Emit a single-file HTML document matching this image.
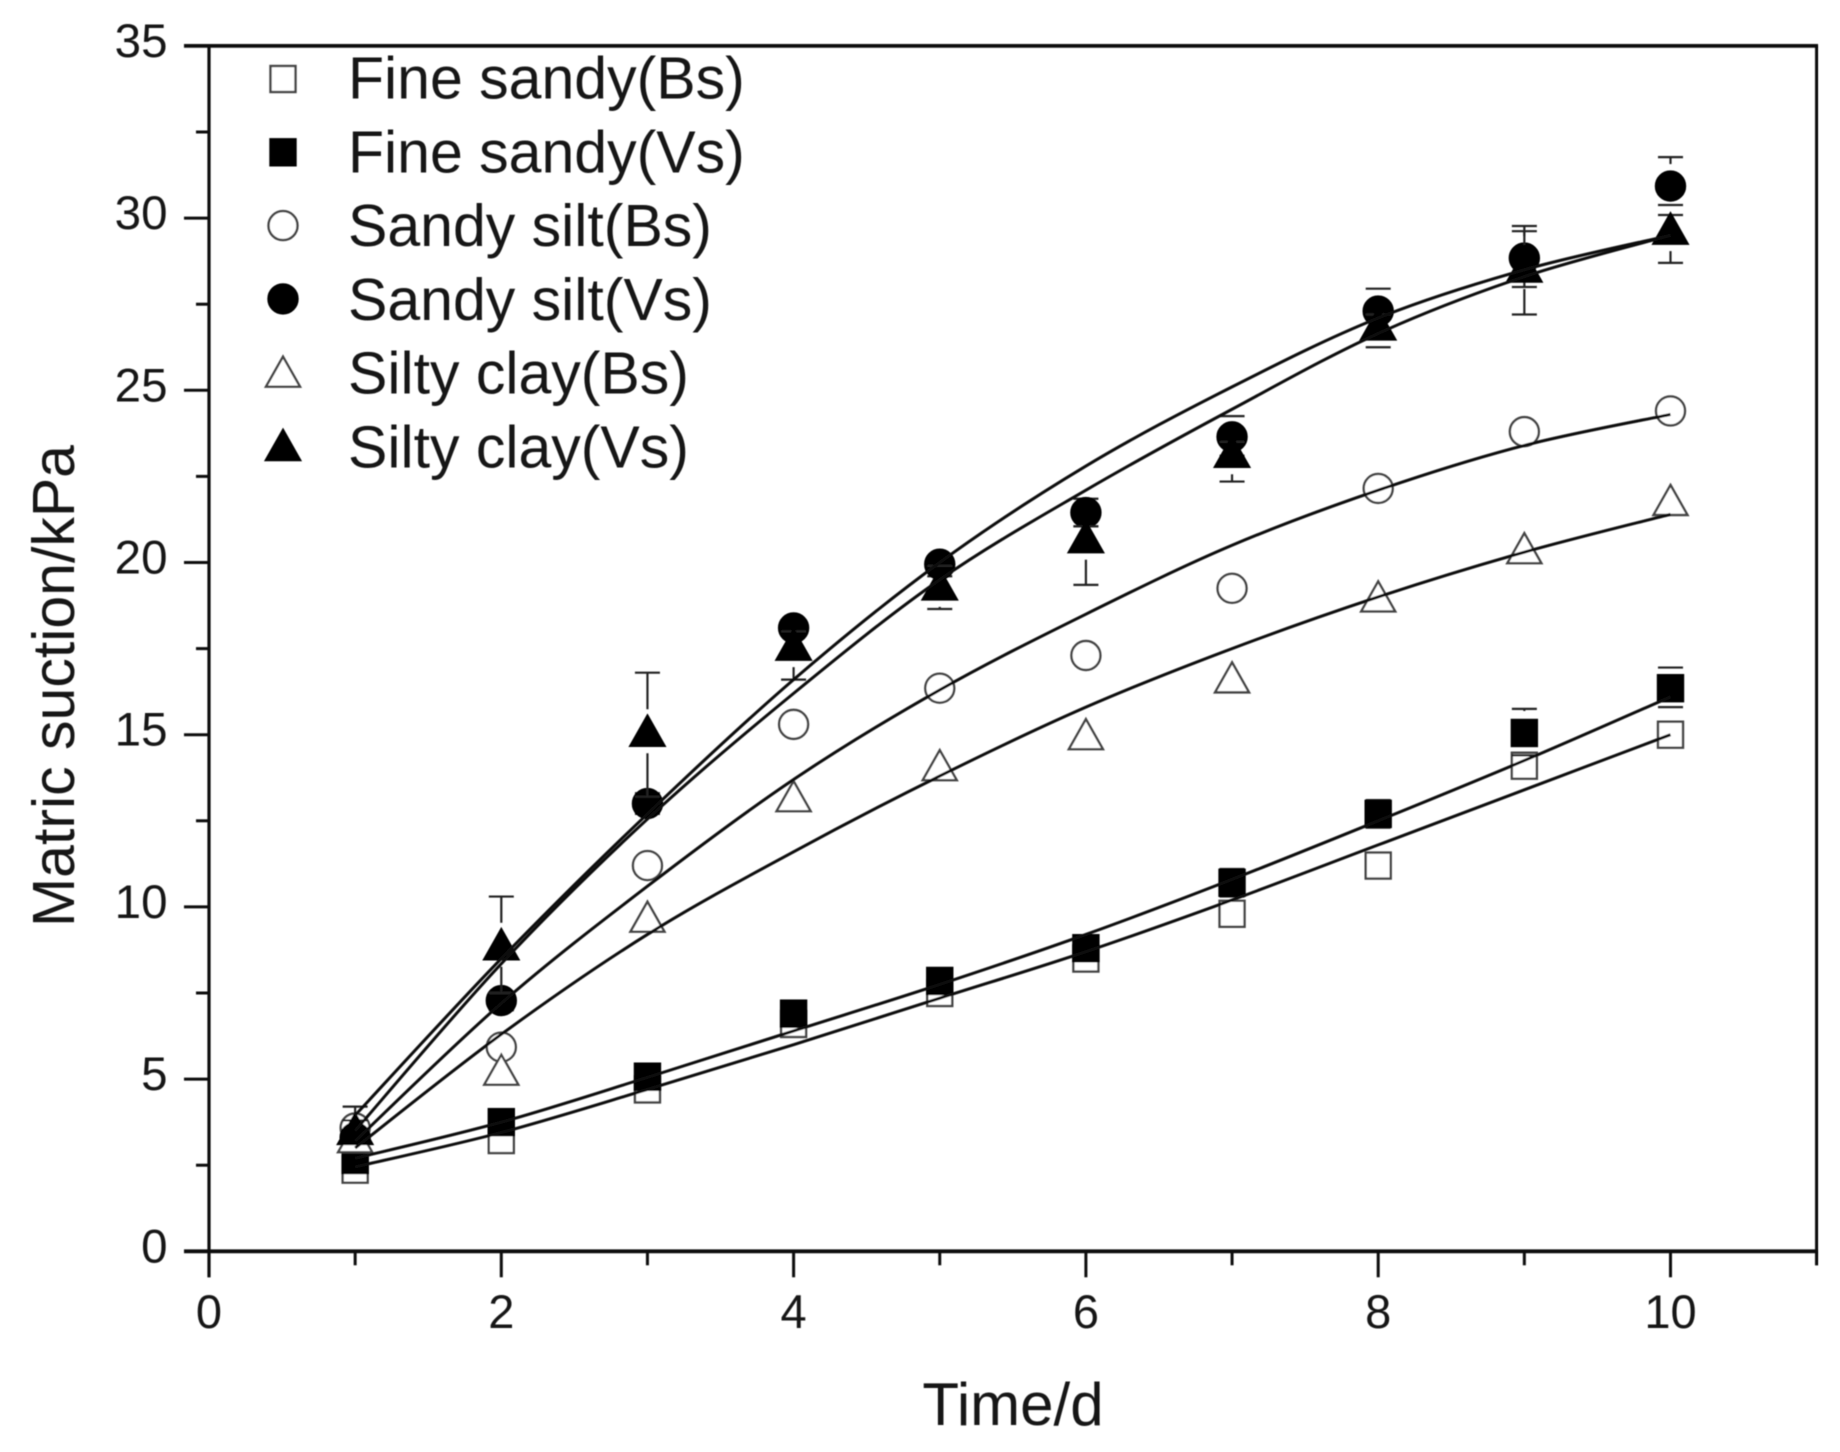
<!DOCTYPE html>
<html lang="en">
<head>
<meta charset="utf-8">
<title>Matric suction over time</title>
<style>
html,body{margin:0;padding:0;background:#fff;width:1840px;height:1452px;overflow:hidden}
svg{display:block}
text{font-family:"Liberation Sans",sans-serif;fill:#141414}
</style>
</head>
<body>
<svg id="chart" xmlns="http://www.w3.org/2000/svg" width="1840" height="1452" viewBox="0 0 1840 1452">
  <defs><filter id="soft" x="0" y="0" width="100%" height="100%"><feGaussianBlur stdDeviation="0.65"/></filter></defs>
  <rect width="1840" height="1452" fill="#fff"/>
  <g id="root" filter="url(#soft)">
    <g id="axes"></g>
    <g id="series"></g>
    <g id="curves"></g>
    <text x="1013" y="1425" font-size="60" text-anchor="middle">Time/d</text>
    <text transform="translate(74 686) rotate(-90)" font-size="59" text-anchor="middle">Matric suction/kPa</text>
    <g id="legend"></g>
  </g>
</svg>
<script>
const days = [1, 2, 3, 4, 5, 6, 7, 8, 9, 10];
const xTickLabels = [0, 2, 4, 6, 8, 10];
const xMinorTicks = [1, 3, 5, 7, 9, 11];
const yTickLabels = [0, 5, 10, 15, 20, 25, 30, 35];
const yMinorTicks = [2.5, 7.5, 12.5, 17.5, 22.5, 27.5, 32.5];

const fineSandyBs = [2.37, 3.23, 4.7, 6.6, 7.5, 8.5, 9.8, 11.2, 14.1, 15.0];
const fineSandyVs = [2.65, 3.75, 5.07, 6.9, 7.85, 8.8, 10.7, 12.7, 15.05, 16.35];
const sandySiltBs = [3.58, 5.93, 11.2, 15.3, 16.35, 17.3, 19.25, 22.15, 23.8, 24.4];
const sandySiltVs = [3.3, 7.28, 13.0, 18.1, 19.95, 21.45, 23.65, 27.3, 28.84, 30.93];
const siltyClayBs = [3.3, 5.26, 9.7, 13.2, 14.1, 15.0, 16.65, 19.0, 20.4, 21.8];
const siltyClayVs = [3.54, 8.9, 15.1, 17.6, 19.35, 20.72, 23.2, 26.9, 28.58, 29.68];

const fineSandyVsUpper = [2.8, 3.9, 5.3, 7.1, 8.1, 9.0, 11.1, 13.1, 15.75, 16.95];
const fineSandyVsLower = [2.4, 3.6, 4.9, 6.7, 7.6, 8.6, 10.3, 12.3, 14.4, 15.8];
const sandySiltVsUpper = [4.2, 7.5, 13.3, 18.3, 20.1, 21.85, 24.25, 27.95, 29.77, 31.77];
const sandySiltVsLower = [3.0, 7.0, 12.7, 17.9, 19.6, 21.05, 23.1, 26.7, 28.0, 30.38];
const siltyClayVsUpper = [3.8, 10.3, 16.8, 18.0, 19.9, 21.05, 23.5, 27.2, 29.62, 30.09];
const siltyClayVsLower = [3.2, 7.5, 13.2, 16.6, 18.65, 19.35, 22.35, 26.25, 27.2, 28.7];

const fitFineBs = [2.45, 3.45, 4.7, 6.0, 7.35, 8.7, 10.2, 11.8, 13.4, 15.0];
const fitFineVs = [2.7, 3.75, 5.05, 6.4, 7.75, 9.2, 10.8, 12.5, 14.25, 16.1];
const fitSandyBs = [3.2, 7.2, 10.6, 13.7, 16.3, 18.5, 20.5, 22.1, 23.4, 24.3];
const fitSandyVs = [3.95, 8.5, 12.7, 16.6, 20.0, 22.8, 25.1, 27.1, 28.5, 29.5];
const fitSiltyBs = [3.0, 6.3, 9.2, 11.6, 13.8, 15.8, 17.5, 19.0, 20.3, 21.4];
const fitSiltyVs = [3.5, 8.35, 12.55, 16.2, 19.5, 22.1, 24.45, 26.65, 28.3, 29.5];

const legendLabels = ["Fine sandy(Bs)", "Fine sandy(Vs)", "Sandy silt(Bs)", "Sandy silt(Vs)", "Silty clay(Bs)", "Silty clay(Vs)"];

const NS = "http://www.w3.org/2000/svg";
const INK = "#111";
const X0 = 209, XU = 146.15, Y0 = 1251.3, YU = 34.44;
const xScale = v => X0 + XU * v;
const yScale = v => Y0 - YU * v;

function make(tag, parent, attrs) {
  const el = document.createElementNS(NS, tag);
  for (const k in attrs) el.setAttribute(k, attrs[k]);
  parent.appendChild(el);
  return el;
}

function segment(parent, x1, y1, x2, y2, width, color) {
  return make("line", parent, {x1: x1, y1: y1, x2: x2, y2: y2, stroke: color || INK, "stroke-width": width});
}

function marker(parent, shape, filled, cx, cy) {
  const fill = filled ? "#000" : "#fff";
  const stroke = filled ? "#000" : "#444";
  const sw = 2.4;
  if (shape === "square") {
    return make("rect", parent, {x: cx - 12.5, y: cy - 13, width: 25, height: 26, fill: fill, stroke: stroke, "stroke-width": sw});
  }
  if (shape === "circle") {
    return make("circle", parent, {cx: cx, cy: cy, r: 14.5, fill: fill, stroke: stroke, "stroke-width": sw});
  }
  const pts = [cx, cy - 15.5, cx + 17, cy + 14.5, cx - 17, cy + 14.5].join(" ");
  return make("polygon", parent, {points: pts, fill: fill, stroke: stroke, "stroke-width": sw, "stroke-linejoin": "miter"});
}

const axes = document.getElementById("axes");
const seriesRoot = document.getElementById("series");
const curvesRoot = document.getElementById("curves");
const legendRoot = document.getElementById("legend");

const yTop = yScale(35), xRight = xScale(11);

const spineTop = segment(axes, 184, yTop, xRight + 1.5, yTop, 3.8);


const spineBottom = segment(axes, 184, Y0, xRight + 1.5, Y0, 3.8);


const spineLeft = segment(axes, X0, yTop, X0, Y0 + 26, 3.2);


const spineRight = segment(axes, xRight, yTop, xRight, Y0 + 14, 3.2);



xTickLabels.forEach(v => {
  const tick = segment(axes, xScale(v), Y0, xScale(v), Y0 + 26, 3);
  
  
  const label = make("text", axes, {x: xScale(v), y: 1328, "font-size": 47, "text-anchor": "middle"});
  label.textContent = v;
  
  
});
xMinorTicks.forEach(v => {
  const tick = segment(axes, xScale(v), Y0, xScale(v), Y0 + 14, 3);
  
  
});
yTickLabels.forEach(v => {
  const tick = segment(axes, 184, yScale(v), X0, yScale(v), 3);
  
  
  const label = make("text", axes, {x: 167.5, y: yScale(v) + 11, "font-size": 47.5, "text-anchor": "end"});
  label.textContent = v;
  
  
});
yMinorTicks.forEach(v => {
  const tick = segment(axes, 196, yScale(v), X0, yScale(v), 3);
  
  
});

function drawErrors(parent, values, upper, lower) {
  days.forEach((d, i) => {
    const x = xScale(d), cy = yScale(values[i]);
    [upper[i], lower[i]].forEach(e => {
      const yc = yScale(e);
      const dir = yc < cy ? -1 : 1;
      if (Math.abs(yc - cy) > 22) {
        const whisker = segment(parent, x, cy + dir * 22, x, yc, 2.2, "#222");
        
        
      }
      const cap = segment(parent, x - 12.5, yc, x + 12.5, yc, 2.2, "#222");
      
      
    });
  });
}

function drawSeries(name, shape, filled, values, upper, lower) {
  const g = make("g", seriesRoot, {});
  
  
  if (upper) drawErrors(g, values, upper, lower);
  days.forEach((d, i) => {
    const m = marker(g, shape, filled, xScale(d), yScale(values[i]));
    
    
  });
}

function drawCurve(name, values) {
  const px = days.map((d, i) => [xScale(d), yScale(values[i])]);
  let path = "M" + px[0][0] + " " + px[0][1];
  for (let i = 0; i < px.length - 1; i++) {
    const a = px[Math.max(i - 1, 0)], b = px[i], c = px[i + 1], e = px[Math.min(i + 2, px.length - 1)];
    path += " C" + (b[0] + (c[0] - a[0]) / 6) + " " + (b[1] + (c[1] - a[1]) / 6) + " " +
      (c[0] - (e[0] - b[0]) / 6) + " " + (c[1] - (e[1] - b[1]) / 6) + " " + c[0] + " " + c[1];
  }
  const line = make("path", curvesRoot, {d: path, fill: "none", stroke: INK, "stroke-width": 3});
  
  
}

drawSeries("series-fine-sandy-bs", "square", false, fineSandyBs);
drawSeries("series-fine-sandy-vs", "square", true, fineSandyVs, fineSandyVsUpper, fineSandyVsLower);
drawSeries("series-sandy-silt-bs", "circle", false, sandySiltBs);
drawSeries("series-sandy-silt-vs", "circle", true, sandySiltVs, sandySiltVsUpper, sandySiltVsLower);
drawSeries("series-silty-clay-bs", "triangle", false, siltyClayBs);
drawSeries("series-silty-clay-vs", "triangle", true, siltyClayVs, siltyClayVsUpper, siltyClayVsLower);

drawCurve("fit-fine-sandy-bs", fitFineBs);
drawCurve("fit-fine-sandy-vs", fitFineVs);
drawCurve("fit-sandy-silt-bs", fitSandyBs);
drawCurve("fit-sandy-silt-vs", fitSandyVs);
drawCurve("fit-silty-clay-bs", fitSiltyBs);
drawCurve("fit-silty-clay-vs", fitSiltyVs);

const legendShapes = ["square", "square", "circle", "circle", "triangle", "triangle"];
legendLabels.forEach((t, i) => {
  const row = make("g", legendRoot, {});
  
  
  const m = marker(row, legendShapes[i], i % 2 === 1, 283, 79 + i * 73.3);
  
  
  const label = make("text", row, {x: 348, y: 98.5 + i * 73.8, "font-size": 59});
  label.textContent = t;
  
  
});
</script>
</body>
</html>
